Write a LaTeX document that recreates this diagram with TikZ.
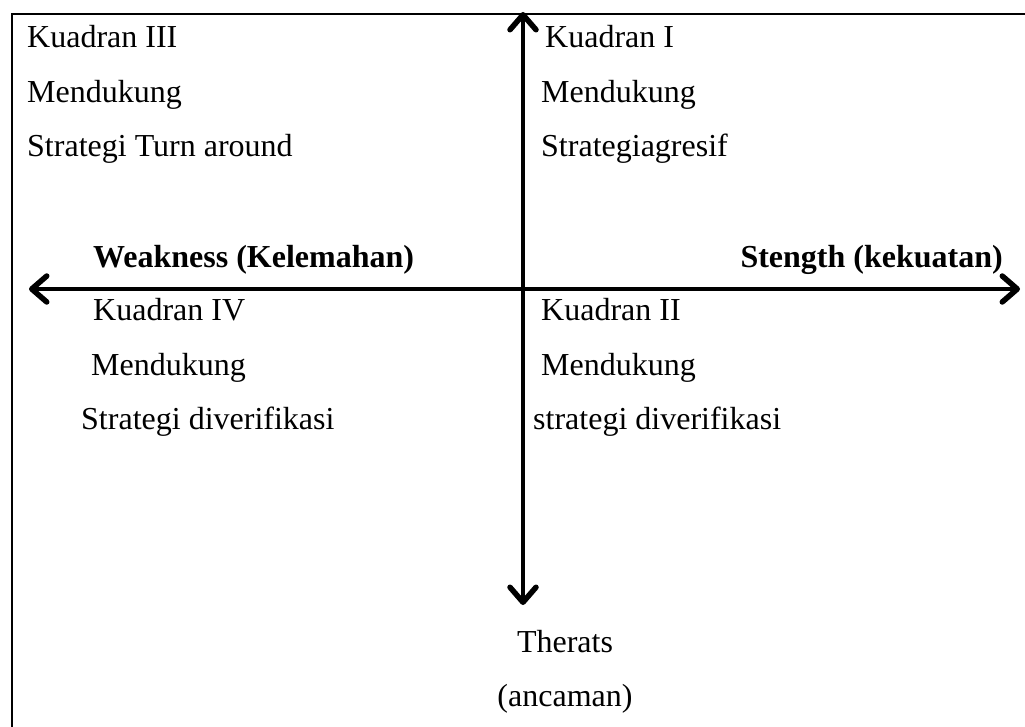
\documentclass[tikz,border=0pt]{standalone}
\usepackage{fontspec}
\setmainfont{Liberation Serif}
\usetikzlibrary{arrows.meta}
\begin{document}
\begin{tikzpicture}[x=1pt,y=-1pt,
  txt/.style={anchor=mid west,inner sep=0pt,font=\fontsize{32}{37}\selectfont},
  btxt/.style={txt,font=\fontsize{32}{37}\selectfont\bfseries},
  ctxt/.style={anchor=mid,inner sep=0pt,font=\fontsize{32}{37}\selectfont},
  axis/.style={line width=4pt,
    {Straight Barb[length=15pt,width=26pt,line width=5.5pt,line cap=round,line join=round]}-{Straight Barb[length=15pt,width=26pt,line width=5.5pt,line cap=round,line join=round]}},
  frame/.style={line width=2.2pt}]
\useasboundingbox (0,0) rectangle (1025,727);
% frame
\coordinate (tl) at (12,14);
\coordinate (tr) at (1025,14);
\coordinate (bl) at (12,727);
\draw[frame] (tr) -- (tl) -- (bl);
% axes
\coordinate (L) at (29,289);
\coordinate (R) at (1020,289);
\coordinate (T) at (523,12);
\coordinate (B) at (523,605);
\draw[axis] (L) -- (R);
\draw[axis] (T) -- (B);
% quadrant III
\node[txt] (q3a) at (27,45) {Kuadran III};
\node[txt] (q3b) at (27,100) {Mendukung};
\node[txt] (q3c) at (27,154) {Strategi Turn around};
% quadrant I
\node[txt] (q1a) at (545,45) {Kuadran I};
\node[txt] (q1b) at (541,100) {Mendukung};
\node[txt] (q1c) at (541,154) {Strategiagresif};
% axis labels
\node[btxt] (w) at (93,265) {Weakness (Kelemahan)};
\node[btxt,anchor=mid east] (s) at (1003,265) {Stength (kekuatan)};
% quadrant IV
\node[txt] (q4a) at (93,318) {Kuadran IV};
\node[txt] (q4b) at (91,373) {Mendukung};
\node[txt] (q4c) at (81,427) {Strategi diverifikasi};
% quadrant II
\node[txt] (q2a) at (541,318) {Kuadran II};
\node[txt] (q2b) at (541,373) {Mendukung};
\node[txt] (q2c) at (533,427) {strategi diverifikasi};
% threats
\node[ctxt] (t1) at (565,650) {Therats};
\node[ctxt] (t2) at (565,704) {(ancaman)};
\end{tikzpicture}
\end{document}
